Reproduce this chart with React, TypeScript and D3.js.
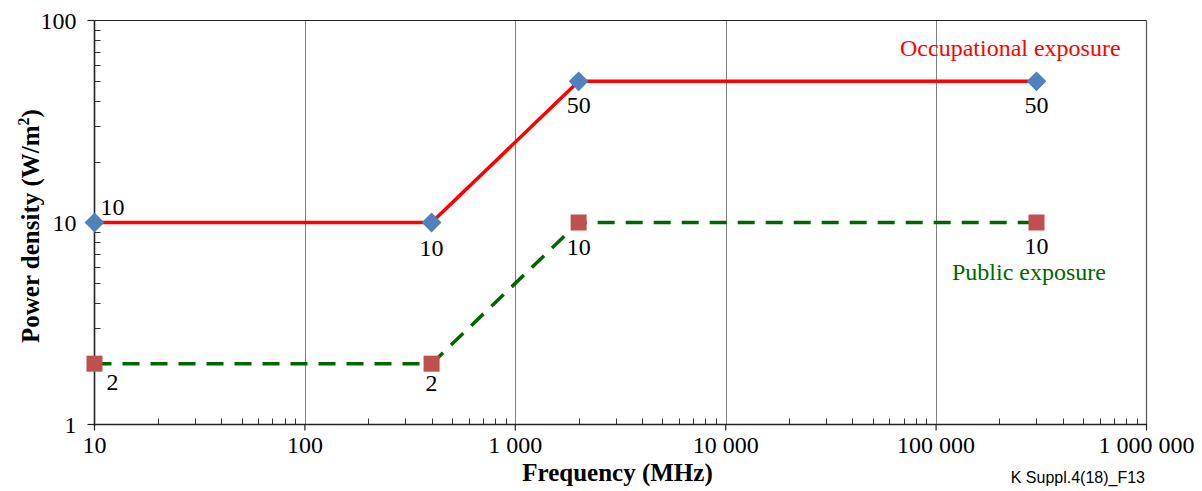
import React from "react";
import * as d3 from "d3";

const occupationalFreq = [10, 400, 2000, 300000];
const occupationalDensity = [10, 10, 50, 50];
const publicFreq = [10, 400, 2000, 300000];
const publicDensity = [2, 2, 10, 10];
const xTickValues = [10, 100, 1000, 10000, 100000, 1000000];
const xTickLabels = ["10", "100", "1 000", "10 000", "100 000", "1 000 000"];
const yTickValues = [1, 10, 100];
const yTickLabels = ["1", "10", "100"];

const W = 1202, H = 491;
const left = 94.5, right = 1146.5, top = 20.5, bottom = 424.5;
const SERIF = "'Liberation Serif', 'Times New Roman', serif";
const FS = 24;

export default function App() {
  const x = d3.scaleLog().domain([10, 1000000]).range([left, right]);
  const y = d3.scaleLog().domain([1, 100]).range([bottom, top]);
  const line = d3.line<[number, number]>().x(d => x(d[0])).y(d => y(d[1]));
  const occ: [number, number][] = occupationalFreq.map((f, i) => [f, occupationalDensity[i]]);
  const pub: [number, number][] = publicFreq.map((f, i) => [f, publicDensity[i]]);

  const xMinor: number[] = [];
  for (let d = 10; d < 1000000; d *= 10) for (let k = 2; k <= 9; k++) xMinor.push(d * k);
  const yMinor: number[] = [];
  for (let d = 1; d < 100; d *= 10) for (let k = 2; k <= 9; k++) yMinor.push(d * k);

  const occLabelPos: [number, number, string][] = [[6, -8, "start"], [0, 33, "middle"], [0, 32, "middle"], [0, 32, "middle"]];
  const pubLabelPos: [number, number, string][] = [[12, 26, "start"], [0, 27, "middle"], [0, 32, "middle"], [0, 31, "middle"]];

  return (
    <div style={{ position: "fixed", left: 0, top: 0 }}>
      <svg width={W} height={H} style={{ display: "block", background: "#fff" }}>
        {xTickValues.slice(1, -1).map(v => (
          <line key={"g" + v} x1={Math.round(x(v)) + 0.5} x2={Math.round(x(v)) + 0.5} y1={top} y2={bottom} stroke="#808080" strokeWidth={1} />
        ))}
        <line x1={right} x2={right} y1={top} y2={bottom} stroke="#555" strokeWidth={1.2} />
        <line x1={left} x2={right} y1={top} y2={top} stroke="#222" strokeWidth={1.2} />
        {xMinor.map(v => (
          <line key={"xm" + v} x1={Math.round(x(v)) + 0.5} x2={Math.round(x(v)) + 0.5} y1={bottom} y2={bottom - 6} stroke="#333" strokeWidth={1} />
        ))}
        {yMinor.map(v => (
          <line key={"ym" + v} x1={left} x2={left + 6} y1={Math.round(y(v)) + 0.5} y2={Math.round(y(v)) + 0.5} stroke="#333" strokeWidth={1} />
        ))}
        <line x1={left} x2={left} y1={top} y2={bottom + 1} stroke="#222" strokeWidth={1.6} />
        <line x1={left - 1} x2={right + 0.5} y1={bottom} y2={bottom} stroke="#222" strokeWidth={1.6} />
        {xTickValues.map(v => (
          <line key={"xt" + v} x1={x(v)} x2={x(v)} y1={bottom} y2={bottom + 6} stroke="#222" strokeWidth={1.2} />
        ))}
        {yTickValues.map(v => (
          <line key={"yt" + v} x1={left - 7} x2={left} y1={y(v)} y2={y(v)} stroke="#222" strokeWidth={1.2} />
        ))}
        {xTickValues.map((v, i) => (
          <text key={"xl" + v} x={x(v)} y={453} textAnchor="middle" fontFamily={SERIF} fontSize={FS} fill="#000">{xTickLabels[i]}</text>
        ))}
        {yTickValues.map((v, i) => (
          <text key={"yl" + v} x={left - 18} y={y(v) + 8} textAnchor="end" fontFamily={SERIF} fontSize={FS} fill="#000">{yTickLabels[i]}</text>
        ))}
        <text x={(left + right) / 2 - 3} y={481} textAnchor="middle" fontFamily={SERIF} fontWeight="bold" fontSize={25} fill="#000">Frequency (MHz)</text>
        <text transform={`translate(39,226) rotate(-90)`} textAnchor="middle" fontFamily={SERIF} fontWeight="bold" fontSize={25} fill="#000">
          Power density (W/m<tspan dy={-10} fontSize={16}>2</tspan><tspan dy={10}>)</tspan>
        </text>
        <path d={line(pub) || ""} fill="none" stroke="#006600" strokeWidth={3.5} strokeDasharray="17,11" />
        <path d={line(occ) || ""} fill="none" stroke="#ff0000" strokeWidth={3.5} />
        {occ.map((d, i) => (
          <rect key={"om" + i} x={x(d[0]) - 7} y={y(d[1]) - 7} width={14} height={14} transform={`rotate(45 ${x(d[0])} ${y(d[1])})`} fill="#4F81BD" />
        ))}
        {pub.map((d, i) => (
          <rect key={"pm" + i} x={x(d[0]) - 8} y={y(d[1]) - 8} width={16} height={16} fill="#C0504D" />
        ))}
        {occ.map((d, i) => (
          <text key={"ol" + i} x={x(d[0]) + occLabelPos[i][0]} y={y(d[1]) + occLabelPos[i][1]} textAnchor={occLabelPos[i][2] as any} fontFamily={SERIF} fontSize={FS} fill="#000">{d[1]}</text>
        ))}
        {pub.map((d, i) => (
          <text key={"pl" + i} x={x(d[0]) + pubLabelPos[i][0]} y={y(d[1]) + pubLabelPos[i][1]} textAnchor={pubLabelPos[i][2] as any} fontFamily={SERIF} fontSize={FS} fill="#000">{d[1]}</text>
        ))}
        <text x={900} y={56} textAnchor="start" fontFamily={SERIF} fontSize={FS} fill="#ff0000">Occupational exposure</text>
        <text x={952} y={280} textAnchor="start" fontFamily={SERIF} fontSize={FS} fill="#006600">Public exposure</text>
        <text x={1145} y={483} textAnchor="end" fontFamily="'Liberation Sans', Arial, sans-serif" fontSize={16} fill="#000">K Suppl.4(18)_F13</text>
      </svg>
    </div>
  );
}
